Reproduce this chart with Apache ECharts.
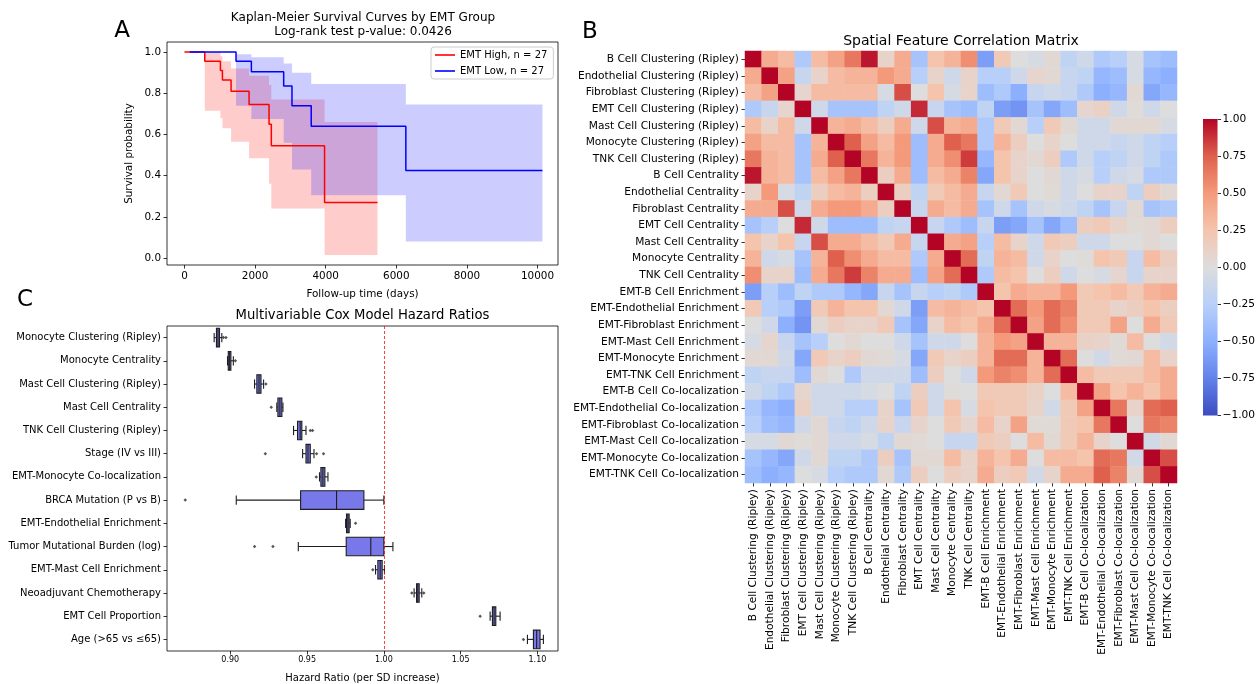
<!DOCTYPE html>
<html><head><meta charset="utf-8">
<script src="https://cdn.jsdelivr.net/npm/echarts@6/dist/echarts.min.js"></script>
<style>html,body{margin:0;padding:0;background:#fff}#c{width:1258px;height:684px}</style>
</head><body><div id="c"></div>
<script>
// ---------- Panel A: Kaplan-Meier ----------
const highT  = [0, 575, 1018, 1075, 1320, 1830, 2395, 2460, 3968, 5467];
const highS  = [1, 0.955, 0.91, 0.865, 0.81, 0.745, 0.65, 0.545, 0.27, 0.27];
const highUp = [1, 1, 0.98, 0.955, 0.92, 0.885, 0.84, 0.77, 0.66, 0.66];
const highLo = [1, 0.715, 0.68, 0.63, 0.565, 0.485, 0.36, 0.24, 0.015, 0.015];
const lowT   = [150, 1460, 1895, 2810, 3045, 3590, 6270, 10140];
const lowS   = [1, 0.955, 0.905, 0.835, 0.74, 0.64, 0.425, 0.425];
const lowUp  = [1, 0.99, 0.975, 0.945, 0.9, 0.845, 0.745, 0.745];
const lowLo  = [1, 0.74, 0.675, 0.56, 0.43, 0.305, 0.08, 0.08];
const kmXTicks = [0, 2000, 4000, 6000, 8000, 10000];
const kmYTicks = [0, 0.2, 0.4, 0.6, 0.8, 1.0];

// ---------- Panel C: Cox hazard ratios ----------
const coxLabels = ["Monocyte Clustering (Ripley)", "Monocyte Centrality", "Mast Cell Clustering (Ripley)",
  "Mast Cell Centrality", "TNK Cell Clustering (Ripley)", "Stage (IV vs III)", "EMT-Monocyte Co-localization",
  "BRCA Mutation (P vs B)", "EMT-Endothelial Enrichment", "Tumor Mutational Burden (log)",
  "EMT-Mast Cell Enrichment", "Neoadjuvant Chemotherapy", "EMT Cell Proportion", "Age (>65 vs \u226465)"];
// whisker low, q1, median, q3, whisker high
const coxBox = [
  [0.8895, 0.8910, 0.8920, 0.8930, 0.8945],
  [0.8982, 0.8987, 0.8996, 0.9004, 0.9020],
  [0.9158, 0.9173, 0.9187, 0.9200, 0.9217],
  [0.9303, 0.9310, 0.9323, 0.9336, 0.9343],
  [0.9412, 0.9438, 0.9455, 0.9466, 0.9493],
  [0.9471, 0.9493, 0.9506, 0.9521, 0.9545],
  [0.9581, 0.9590, 0.9603, 0.9616, 0.9636],
  [0.9039, 0.9458, 0.9692, 0.9870, 1.0000],
  [0.9751, 0.9757, 0.9766, 0.9774, 0.9781],
  [0.9443, 0.9755, 0.9915, 1.0000, 1.0059],
  [0.9946, 0.9961, 0.9976, 0.9989, 1.0004],
  [1.0197, 1.0213, 1.0221, 1.0230, 1.0247],
  [1.0692, 1.0707, 1.0718, 1.0729, 1.0757],
  [1.0935, 1.0974, 1.0995, 1.1017, 1.1039]
];
const coxOutliers = [[0.8955, 0.8972], [0.9033], [0.9232], [0.9267], [0.9521, 0.9536],
  [0.9228, 0.9562, 0.9607], [0.9560], [0.8707], [0.9816], [0.9158, 0.9278], [0.9928],
  [1.0182, 1.0260], [1.0627], [1.0909]];
const coxTicks = [0.90, 0.95, 1.00, 1.05, 1.10];
const refHR = 1.0;

// ---------- Panel B: correlation matrix ----------
const featLabels = ["B Cell Clustering (Ripley)", "Endothelial Clustering (Ripley)", "Fibroblast Clustering (Ripley)",
  "EMT Cell Clustering (Ripley)", "Mast Cell Clustering (Ripley)", "Monocyte Clustering (Ripley)",
  "TNK Cell Clustering (Ripley)", "B Cell Centrality", "Endothelial Centrality", "Fibroblast Centrality",
  "EMT Cell Centrality", "Mast Cell Centrality", "Monocyte Centrality", "TNK Cell Centrality",
  "EMT-B Cell Enrichment", "EMT-Endothelial Enrichment", "EMT-Fibroblast Enrichment", "EMT-Mast Cell Enrichment",
  "EMT-Monocyte Enrichment", "EMT-TNK Cell Enrichment", "EMT-B Cell Co-localization",
  "EMT-Endothelial Co-localization", "EMT-Fibroblast Co-localization", "EMT-Mast Cell Co-localization",
  "EMT-Monocyte Co-localization", "EMT-TNK Cell Co-localization"];
const corrLower = [
  [1],
  [0.4, 1],
  [0.3, 0.45, 1],
  [-0.3, -0.15, 0.08, 1],
  [0.3, 0.1, 0.3, -0.1, 1],
  [0.45, 0.3, 0.3, -0.35, 0.35, 1],
  [0.65, 0.35, 0.3, -0.35, 0.4, 0.75, 1],
  [0.95, 0.35, 0.3, -0.35, 0.3, 0.45, 0.65, 1],
  [0.1, 0.5, -0.05, -0.2, 0.15, 0.3, 0.35, 0.15, 1],
  [0.4, 0.4, 0.8, -0.1, 0.4, 0.5, 0.5, 0.4, 0.15, 1],
  [-0.35, -0.25, 0.0, 0.9, -0.1, -0.4, -0.4, -0.4, -0.2, -0.15, 1],
  [0.25, 0.1, 0.25, -0.15, 0.8, 0.4, 0.4, 0.3, 0.2, 0.4, -0.15, 1],
  [0.35, -0.1, -0.05, -0.35, 0.35, 0.75, 0.55, 0.4, 0.3, 0.3, -0.3, 0.4, 1],
  [0.55, 0.1, 0.1, -0.4, 0.4, 0.65, 0.85, 0.6, 0.4, 0.4, -0.4, 0.45, 0.7, 1],
  [-0.6, -0.25, -0.4, -0.2, -0.3, -0.3, -0.45, -0.55, -0.15, -0.35, -0.15, -0.25, -0.2, -0.3, 1],
  [0.2, -0.25, -0.3, -0.6, 0.2, 0.35, 0.25, 0.25, 0.05, -0.1, -0.6, 0.3, 0.35, 0.3, 0.25, 1],
  [0.0, -0.1, -0.5, -0.65, 0.05, 0.15, 0.1, 0.1, 0.2, -0.35, -0.55, 0.1, 0.3, 0.25, 0.4, 0.7, 1],
  [-0.05, 0.08, -0.15, -0.35, -0.25, 0.0, 0.05, 0.0, 0.0, -0.1, -0.35, -0.1, -0.1, 0.0, 0.35, 0.5, 0.45, 1],
  [0.05, 0.05, -0.1, -0.55, 0.2, 0.1, 0.15, 0.05, 0.03, -0.05, -0.55, 0.2, 0.1, 0.15, 0.35, 0.7, 0.7, 0.35, 1],
  [-0.2, -0.15, -0.15, -0.4, 0.05, 0.0, -0.3, -0.1, -0.1, -0.1, -0.4, 0.15, 0.0, -0.1, 0.5, 0.6, 0.55, 0.35, 0.7, 1],
  [-0.1, -0.2, -0.3, 0.08, -0.1, -0.1, -0.1, -0.05, 0.0, -0.2, 0.15, -0.1, 0.02, 0.0, 0.2, 0.2, 0.2, 0.12, 0.0, 0.3, 1],
  [-0.3, -0.45, -0.5, 0.12, -0.1, -0.1, -0.25, -0.25, 0.1, -0.35, 0.2, -0.1, 0.25, -0.05, 0.25, 0.2, 0.2, 0.1, -0.08, 0.2, 0.45, 1],
  [-0.25, -0.4, -0.45, -0.1, 0.05, -0.15, -0.2, -0.1, 0.1, -0.15, 0.1, 0.0, 0.2, 0.08, 0.3, 0.1, 0.45, 0.03, 0.03, 0.2, 0.25, 0.65, 1],
  [-0.05, -0.05, 0.05, 0.02, 0.05, -0.1, -0.1, -0.05, -0.2, 0.05, 0.03, 0.0, -0.15, -0.15, 0.2, 0.15, 0.0, 0.3, 0.05, 0.2, 0.35, 0.1, 0.0, 1],
  [-0.35, -0.45, -0.55, -0.1, 0.05, -0.2, -0.2, -0.3, 0.15, -0.35, 0.05, 0.05, 0.3, 0.1, 0.35, 0.25, 0.4, 0.0, 0.3, 0.3, 0.25, 0.7, 0.65, -0.08, 1],
  [-0.4, -0.5, -0.45, 0.0, -0.05, -0.25, -0.3, -0.3, 0.05, -0.3, 0.15, 0.0, 0.15, 0.1, 0.4, 0.15, 0.2, -0.08, 0.1, 0.4, 0.4, 0.75, 0.6, 0.05, 0.8, 1]
];
const cbTicks = [-1, -0.75, -0.5, -0.25, 0, 0.25, 0.5, 0.75, 1];
const coolwarm = ['#3b4cc0', '#6282ea', '#8db0fe', '#b8d0f9', '#dddddd', '#f5c4ad', '#f49a7b', '#de604d', '#b40426'];

// ---------- build ----------
const FONT = 'DejaVu Sans';
const chart = echarts.init(document.getElementById('c'), null, {renderer: 'canvas'});

function stepPairs(T, S) { return T.map((t, i) => [t, S[i]]); }

function bandSeries(T, lo, hi, color) {
  return {
    type: 'custom', xAxisIndex: 0, yAxisIndex: 0, silent: true, z: 1,
    data: T.map((t, i) => [t, lo[i], hi[i]]),
    encode: {x: 0, y: [1, 2]},
    renderItem: function (params, api) {
      if (params.dataIndex !== 0) return null;
      const pts = [];
      const n = T.length;
      for (let i = 0; i < n - 1; i++) {
        pts.push(api.coord([T[i], hi[i]]));
        pts.push(api.coord([T[i + 1], hi[i]]));
      }
      for (let i = n - 2; i >= 0; i--) {
        pts.push(api.coord([T[i + 1], lo[i]]));
        pts.push(api.coord([T[i], lo[i]]));
      }
      return {type: 'polygon', shape: {points: pts}, style: {fill: color, stroke: null}};
    }
  };
}

const boxData = coxBox.map((b, i) => [i].concat(b));
const outlierData = [];
coxOutliers.forEach((arr, i) => arr.forEach(v => outlierData.push([v, i])));

const heatData = [];
for (let i = 0; i < featLabels.length; i++) {
  for (let j = 0; j < featLabels.length; j++) {
    const v = i >= j ? corrLower[i][j] : corrLower[j][i];
    heatData.push([j, i, v]);
  }
}

const axisTickStyle = {show: true, inside: false, length: 3.5, lineStyle: {color: '#000', width: 0.8}};
const noLine = {show: false, onZero: false};

const option = {
  animation: false,
  textStyle: {fontFamily: FONT},
  grid: [
    {left: 167, top: 42, width: 391, height: 223, show: true, borderColor: '#000', borderWidth: 0.8},
    {left: 167, top: 326, width: 391, height: 328, show: true, borderColor: '#000', borderWidth: 0.8},
    {left: 745, top: 51, width: 432, height: 432},
    {left: 1203, top: 119, width: 15.5, height: 296.5}
  ],
  xAxis: [
    {gridIndex: 0, type: 'value', min: -495, max: 10580, position: 'bottom',
      axisLine: noLine, splitLine: {show: false},
      axisTick: Object.assign({customValues: kmXTicks}, axisTickStyle),
      axisLabel: {customValues: kmXTicks, fontSize: 10.4, color: '#000', margin: 6, fontFamily: FONT,
        formatter: v => String(Math.round(v))},
      name: 'Follow-up time (days)', nameLocation: 'middle', nameGap: 24,
      nameTextStyle: {fontSize: 10.4, color: '#000', fontFamily: FONT}},
    {gridIndex: 1, type: 'value', min: 0.8588, max: 1.1134, position: 'bottom',
      axisLine: noLine, splitLine: {show: false},
      axisTick: Object.assign({customValues: coxTicks}, axisTickStyle),
      axisLabel: {customValues: coxTicks, fontSize: 8, color: '#000', margin: 5, fontFamily: FONT,
        formatter: v => v.toFixed(2)},
      name: 'Hazard Ratio (per SD increase)', nameLocation: 'middle', nameGap: 22,
      nameTextStyle: {fontSize: 10, color: '#000', fontFamily: FONT}},
    {gridIndex: 2, type: 'category', data: featLabels, position: 'bottom',
      axisLine: noLine, splitLine: {show: false},
      axisTick: Object.assign({alignWithLabel: true}, axisTickStyle),
      axisLabel: {interval: 0, rotate: 90, fontSize: 10.6, color: '#000', margin: 6, fontFamily: FONT}},
    {gridIndex: 3, type: 'value', min: 0, max: 1, show: false}
  ],
  yAxis: [
    {gridIndex: 0, type: 'value', min: -0.034, max: 1.049, position: 'left',
      axisLine: noLine, splitLine: {show: false},
      axisTick: Object.assign({customValues: kmYTicks}, axisTickStyle),
      axisLabel: {customValues: kmYTicks, fontSize: 10.4, color: '#000', margin: 6, fontFamily: FONT,
        formatter: v => v.toFixed(1)},
      name: 'Survival probability', nameLocation: 'middle', nameGap: 33, nameRotate: 90,
      nameTextStyle: {fontSize: 10.4, color: '#000', fontFamily: FONT}},
    {gridIndex: 1, type: 'category', data: coxLabels, inverse: true,
      axisLine: noLine, splitLine: {show: false},
      axisTick: Object.assign({alignWithLabel: true}, axisTickStyle),
      axisLabel: {interval: 0, fontSize: 10, color: '#000', margin: 6, fontFamily: FONT}},
    {gridIndex: 2, type: 'category', data: featLabels, inverse: true,
      axisLine: noLine, splitLine: {show: false},
      axisTick: Object.assign({alignWithLabel: true}, axisTickStyle),
      axisLabel: {interval: 0, fontSize: 10.6, color: '#000', margin: 6, fontFamily: FONT}},
    {gridIndex: 3, type: 'value', min: -1, max: 1, interval: 0.25, position: 'right',
      axisLine: noLine, splitLine: {show: false},
      axisTick: axisTickStyle,
      axisLabel: {fontSize: 10.6, color: '#000', margin: 5, fontFamily: FONT,
        formatter: v => v.toFixed(2).replace('-', '\u2212')}}
  ],
  visualMap: {
    show: false, type: 'continuous', min: -1, max: 1, seriesIndex: 7,
    inRange: {color: coolwarm}
  },
  legend: {
    left: 431, top: 47, orient: 'vertical', data: ['EMT High, n = 27', 'EMT Low, n = 27'],
    icon: 'rect', itemWidth: 20, itemHeight: 1.6, itemGap: 0, padding: [0, 6, 0, 4],
    borderColor: '#cccccc', borderWidth: 1, borderRadius: 3, backgroundColor: 'rgba(255,255,255,0.8)',
    textStyle: {fontSize: 10, color: '#000', lineHeight: 16, fontFamily: FONT}
  },
  series: [
    bandSeries(highT, highLo, highUp, 'rgba(255,0,0,0.2)'),
    bandSeries(lowT, lowLo, lowUp, 'rgba(0,0,255,0.2)'),
    {name: 'EMT High, n = 27', type: 'line', step: 'end', xAxisIndex: 0, yAxisIndex: 0,
      data: stepPairs(highT, highS), showSymbol: false, symbol: 'none', z: 3,
      lineStyle: {color: '#ff0000', width: 1.5}, itemStyle: {color: '#ff0000'}},
    {name: 'EMT Low, n = 27', type: 'line', step: 'end', xAxisIndex: 0, yAxisIndex: 0,
      data: stepPairs(lowT, lowS), showSymbol: false, symbol: 'none', z: 3,
      lineStyle: {color: '#0000ff', width: 1.5}, itemStyle: {color: '#0000ff'}},
    // Cox boxes
    {type: 'custom', xAxisIndex: 1, yAxisIndex: 1, z: 2, data: boxData,
      encode: {x: [1, 2, 3, 4, 5], y: 0},
      renderItem: function (params, api) {
        const ci = api.value(0);
        const v = [api.value(1), api.value(2), api.value(3), api.value(4), api.value(5)];
        const bandH = api.size([0, 1])[1];
        const h = bandH * 0.8, cap = h * 0.5;
        const yc = api.coord([v[2], ci])[1];
        const X = v.map(val => api.coord([val, ci])[0]);
        const st = {stroke: '#1e1e1e', lineWidth: 1.1};
        return {type: 'group', children: [
          {type: 'line', shape: {x1: X[0], y1: yc, x2: X[1], y2: yc}, style: st},
          {type: 'line', shape: {x1: X[3], y1: yc, x2: X[4], y2: yc}, style: st},
          {type: 'line', shape: {x1: X[0], y1: yc - cap / 2, x2: X[0], y2: yc + cap / 2}, style: st},
          {type: 'line', shape: {x1: X[4], y1: yc - cap / 2, x2: X[4], y2: yc + cap / 2}, style: st},
          {type: 'rect', shape: {x: X[1], y: yc - h / 2, width: X[3] - X[1], height: h},
            style: {fill: '#7878ea', stroke: '#1e1e1e', lineWidth: 1.1}},
          {type: 'line', shape: {x1: X[2], y1: yc - h / 2, x2: X[2], y2: yc + h / 2}, style: st}
        ]};
      }},
    {type: 'scatter', xAxisIndex: 1, yAxisIndex: 1, data: outlierData, symbol: 'diamond', symbolSize: 3.5,
      itemStyle: {color: '#2a2a2a'}, z: 3, silent: true,
      markLine: {silent: true, symbol: 'none', label: {show: false},
        lineStyle: {color: 'rgba(255,0,0,0.75)', type: [3, 2], width: 1},
        data: [{xAxis: refHR}]}},
    {type: 'custom', xAxisIndex: 1, yAxisIndex: 1, data: [], renderItem: () => null},
    // heatmap (index 7)
    {type: 'heatmap', xAxisIndex: 2, yAxisIndex: 2, data: heatData, itemStyle: {borderWidth: 0},
      emphasis: {disabled: true}},
    // colorbar
    {type: 'custom', xAxisIndex: 3, yAxisIndex: 3, silent: true, data: [[0, cbTicks[0], cbTicks[cbTicks.length - 1]]],
      encode: {x: 0, y: [1, 2]},
      renderItem: function (params, api) {
        const top = api.coord([0, api.value(2)]);
        const bot = api.coord([1, api.value(1)]);
        const stops = coolwarm.map((c, i) => ({offset: 1 - i / (coolwarm.length - 1), color: c}));
        stops.reverse();
        return {type: 'rect', shape: {x: top[0], y: top[1], width: bot[0] - top[0], height: bot[1] - top[1]},
          style: {fill: new echarts.graphic.LinearGradient(0, 0, 0, 1, stops)}};
      }}
  ],
  graphic: [
    {type: 'text', style: {x: 122, y: 31, text: 'A', fontSize: 23, fontFamily: FONT, fill: '#000', align: 'center', verticalAlign: 'middle'}},
    {type: 'text', style: {x: 590, y: 32, text: 'B', fontSize: 23, fontFamily: FONT, fill: '#000', align: 'center', verticalAlign: 'middle'}},
    {type: 'text', style: {x: 25, y: 300, text: 'C', fontSize: 23, fontFamily: FONT, fill: '#000', align: 'center', verticalAlign: 'middle'}},
    {type: 'text', style: {x: 363, y: 17.5, text: 'Kaplan-Meier Survival Curves by EMT Group', fontSize: 12, fontFamily: FONT, fill: '#000', align: 'center', verticalAlign: 'middle'}},
    {type: 'text', style: {x: 363, y: 31.5, text: 'Log-rank test p-value: 0.0426', fontSize: 12, fontFamily: FONT, fill: '#000', align: 'center', verticalAlign: 'middle'}},
    {type: 'text', style: {x: 362.5, y: 315.5, text: 'Multivariable Cox Model Hazard Ratios', fontSize: 13.2, fontFamily: FONT, fill: '#000', align: 'center', verticalAlign: 'middle'}},
    {type: 'text', style: {x: 961, y: 41.5, text: 'Spatial Feature Correlation Matrix', fontSize: 14, fontFamily: FONT, fill: '#000', align: 'center', verticalAlign: 'middle'}}
  ]
};
chart.setOption(option);
</script>
</body></html>
